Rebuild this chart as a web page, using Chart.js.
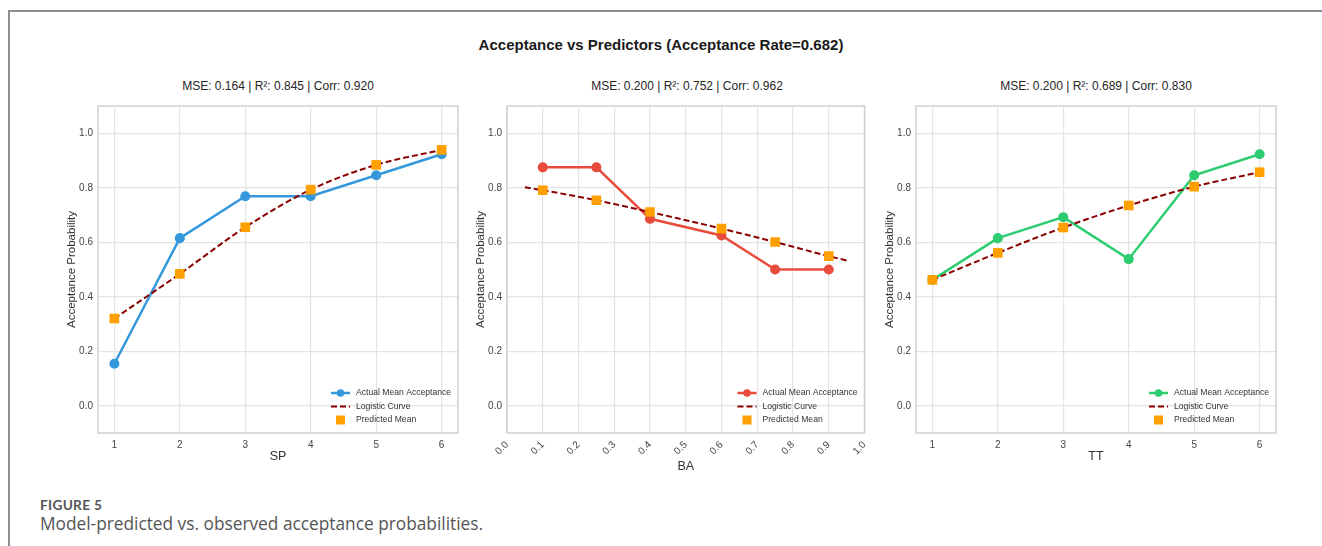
<!DOCTYPE html>
<html>
<head>
<meta charset="utf-8">
<script src="https://cdn.jsdelivr.net/npm/chart.js@4.4.1/dist/chart.umd.min.js"></script>
<style>
body{margin:0;width:1322px;height:546px;background:#fff;position:relative;overflow:hidden;font-family:"Liberation Sans",Arial,sans-serif;}
#frame{position:absolute;left:8px;top:10px;right:-4px;bottom:-4px;border-top:2px solid #8c8c92;border-left:2px solid #8c8c92;}
#title{position:absolute;top:36px;left:0;width:1322px;text-align:center;font-weight:bold;font-size:15px;color:#1a1a1a;}
.sub{position:absolute;top:79px;width:360px;text-align:center;font-size:12px;color:#262626;}
.panel{position:absolute;top:70px;width:410px;height:410px;}
#fig{position:absolute;left:40px;top:496px;font-family:Lato,"Open Sans",sans-serif;font-size:13.7px;font-weight:bold;color:#555;letter-spacing:0.3px;}
#cap{position:absolute;left:40px;top:512px;font-family:"Open Sans",Lato,sans-serif;font-size:17.3px;color:#555;}
</style>
</head>
<body>
<div id="frame"></div>
<div id="title">Acceptance vs Predictors (Acceptance Rate=0.682)</div>
<div class="sub" style="left:98px">MSE: 0.164 | R²: 0.845 | Corr: 0.920</div>
<div class="sub" style="left:507px">MSE: 0.200 | R²: 0.752 | Corr: 0.962</div>
<div class="sub" style="left:916px">MSE: 0.200 | R²: 0.689 | Corr: 0.830</div>
<div class="panel" style="left:60px"><canvas id="spChart" width="410" height="410"></canvas></div>
<div class="panel" style="left:469px"><canvas id="baChart" width="410" height="410"></canvas></div>
<div class="panel" style="left:878px"><canvas id="ttChart" width="410" height="410"></canvas></div>
<div id="fig">FIGURE 5</div>
<div id="cap">Model-predicted vs. observed acceptance probabilities.</div>
<script>
// values
const spX = [1, 2, 3, 4, 5, 6];
const spActual = [0.154, 0.615, 0.769, 0.769, 0.846, 0.923];
const spPred = [0.320, 0.484, 0.655, 0.793, 0.884, 0.939];

const baX = [0.1, 0.25, 0.4, 0.6, 0.75, 0.9];
const baActual = [0.875, 0.875, 0.686, 0.625, 0.500, 0.500];
const baPred = [0.791, 0.754, 0.711, 0.650, 0.601, 0.549];
const baCurveX = [0.05, 0.1, 0.25, 0.4, 0.6, 0.75, 0.9, 0.95];
const baCurveY = [0.802, 0.791, 0.754, 0.711, 0.650, 0.601, 0.549, 0.533];

const ttX = [1, 2, 3, 4, 5, 6];
const ttActual = [0.462, 0.615, 0.692, 0.538, 0.846, 0.923];
const ttPred = [0.462, 0.561, 0.654, 0.735, 0.804, 0.857];

const yTicks = [0, 0.2, 0.4, 0.6, 0.8, 1.0];
const intTicks = [1, 2, 3, 4, 5, 6];
const baTicks = [0, 0.1, 0.2, 0.3, 0.4, 0.5, 0.6, 0.7, 0.8, 0.9, 1.0];
const legendLabels = ['Actual Mean Acceptance', 'Logistic Curve', 'Predicted Mean'];

function pts(xs, ys){
    return xs.map((x, i) => ({x: x, y: ys[i]}));
}

const frameBox = {
    id: 'frameBox',
    beforeDatasetsDraw(chart){
        const a = chart.chartArea, ctx = chart.ctx;
        ctx.save();
        ctx.strokeStyle = '#cfcfcf';
        ctx.lineWidth = 1.5;
        ctx.strokeRect(a.left, a.top, a.right - a.left, a.bottom - a.top);
        ctx.restore();
    }
};

const insideLegend = {
    id: 'insideLegend',
    afterDraw(chart){
        const a = chart.chartArea, ctx = chart.ctx;
        const ds = chart.data.datasets;
        const x0 = a.right - 127, x1 = a.right - 108, tx = a.right - 102;
        const rows = [a.bottom - 40, a.bottom - 26.5, a.bottom - 13];
        ctx.save();
        // actual
        ctx.strokeStyle = ds[0].borderColor; ctx.lineWidth = 2.5;
        ctx.beginPath(); ctx.moveTo(x0, rows[0]); ctx.lineTo(x1, rows[0]); ctx.stroke();
        ctx.fillStyle = ds[0].borderColor;
        ctx.beginPath(); ctx.arc((x0 + x1) / 2, rows[0], 3.8, 0, Math.PI * 2); ctx.fill();
        // curve
        ctx.strokeStyle = ds[1].borderColor; ctx.lineWidth = 2; ctx.setLineDash([6, 3]);
        ctx.beginPath(); ctx.moveTo(x0, rows[1]); ctx.lineTo(x1, rows[1]); ctx.stroke();
        ctx.setLineDash([]);
        // predicted
        ctx.fillStyle = ds[2].backgroundColor;
        ctx.fillRect((x0 + x1) / 2 - 4.5, rows[2] - 4.5, 9, 9);
        ctx.fillStyle = '#333';
        ctx.font = '8.6px "Liberation Sans", Arial, sans-serif';
        ctx.textBaseline = 'middle';
        legendLabels.forEach((t, i) => ctx.fillText(t, tx, rows[i]));
        ctx.restore();
    }
};

function makePanel(canvas, o){
    return new Chart(document.getElementById(canvas), {
        type: 'line',
        data: {
            datasets: [
                { data: pts(o.x, o.actual), borderColor: o.color, backgroundColor: o.color,
                  borderWidth: 2.5, pointRadius: 3.8, pointHoverRadius: 3.8, order: 2 },
                { data: pts(o.curveX, o.curveY), borderColor: '#8b0000', borderWidth: 2,
                  borderDash: [6, 3], pointRadius: 0, cubicInterpolationMode: 'monotone', order: 1 },
                { data: pts(o.x, o.pred), showLine: false, pointStyle: 'rect', pointRadius: 6.8,
                  pointHoverRadius: 6.8, backgroundColor: '#ff9f00', borderColor: '#ff9f00', borderWidth: 0, order: 0 }
            ]
        },
        options: {
            responsive: false,
            animation: false,
            layout: { padding: { top: 36, right: 12, left: 0, bottom: o.padBottom } },
            plugins: { legend: { display: false }, tooltip: { enabled: false } },
            scales: {
                x: {
                    type: 'linear', min: o.min, max: o.max,
                    afterBuildTicks: s => { s.ticks = o.ticks.map(v => ({value: v})); },
                    afterFit: s => { s.height = o.xHeight; },
                    grid: { color: '#e4e4e4', lineWidth: 1.2, drawTicks: false },
                    border: { display: false },
                    ticks: { padding: 6, color: '#444', font: { size: 10 }, autoSkip: false,
                             maxRotation: o.rot, minRotation: o.rot, callback: o.fmt },
                    title: { display: true, text: o.label, color: '#333', font: { size: 12.5 }, padding: { top: 2, bottom: 3 } }
                },
                y: {
                    min: -0.1, max: 1.1,
                    afterBuildTicks: s => { s.ticks = yTicks.map(v => ({value: v})); },
                    afterFit: s => { s.width = 38; },
                    grid: { color: '#e4e4e4', lineWidth: 1.2, drawTicks: false },
                    border: { display: false },
                    ticks: { padding: 5, color: '#444', font: { size: 10 }, callback: v => v.toFixed(1) },
                    title: { display: true, text: 'Acceptance Probability', color: '#333', font: { size: 11.5 }, padding: { top: 5, bottom: 0 } }
                }
            }
        },
        plugins: [frameBox, insideLegend]
    });
}

makePanel('spChart', { x: spX, actual: spActual, pred: spPred, curveX: spX, curveY: spPred,
    color: '#3498db', min: 0.75, max: 6.25, ticks: intTicks, fmt: v => String(v),
    rot: 0, label: 'SP', xHeight: 34, padBottom: 13 });
makePanel('baChart', { x: baX, actual: baActual, pred: baPred, curveX: baCurveX, curveY: baCurveY,
    color: '#e74c3c', min: 0, max: 1, ticks: baTicks, fmt: v => v.toFixed(1),
    rot: 45, label: 'BA', xHeight: 44, padBottom: 3 });
makePanel('ttChart', { x: ttX, actual: ttActual, pred: ttPred, curveX: ttX, curveY: ttPred,
    color: '#2ecc71', min: 0.75, max: 6.25, ticks: intTicks, fmt: v => String(v),
    rot: 0, label: 'TT', xHeight: 34, padBottom: 13 });
</script>
</body>
</html>
